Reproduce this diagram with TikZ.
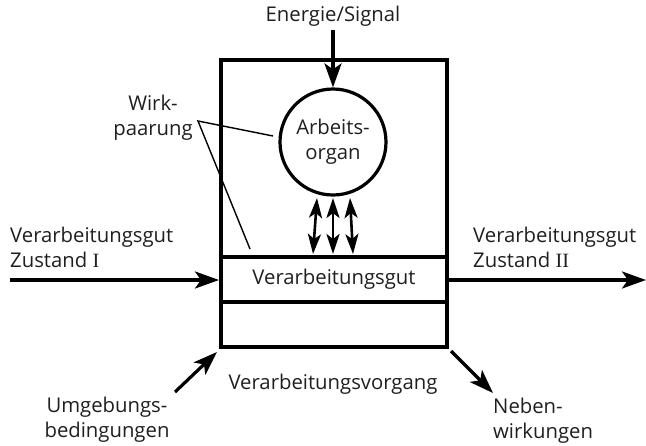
\documentclass[tikz,border=0pt]{standalone}
\usepackage{fontspec}
\setmainfont{Open Sans}
\newfontfamily\numfont{Liberation Serif}
\usetikzlibrary{arrows.meta}
\begin{document}
\begin{tikzpicture}[x=1pt,y=-1pt,
  font=\fontsize{20.3}{25}\selectfont,
  thick line/.style={line width=3.2pt},
  label text/.style={inner sep=0pt, align=left, text=black!88},
  center text/.style={inner sep=0pt, align=center, text=black!88},
  big arrow/.style={line width=3.2pt, -{Stealth[length=24pt,width=17pt,inset=6pt]}},
  duo arrow/.style={line width=2.6pt, {Stealth[length=20pt,width=13pt,inset=5pt]}-{Stealth[length=20pt,width=13pt,inset=5pt]}},
  thin line/.style={line width=1.4pt}]
\useasboundingbox (0,0) rectangle (646,445);
% main box
\node[draw, thick line, minimum width=226pt, minimum height=287pt, inner sep=0pt] (box) at (334,203.5) {};
% band
\node[draw, thick line, minimum width=226pt, minimum height=45pt, inner sep=0pt, center text] (band) at (334,279.5) {Verarbeitungsgut};
% circle
\node[draw, thick line, circle, minimum size=106pt, inner sep=0pt, center text] (organ) at (333,142) {Arbeits-\\organ};
% texts
\node[center text, anchor=base] (energie) at (333,21) {Energie/Signal};
\node[center text] (wirk) at (153,118) {Wirk-\\paarung};
\node[label text, anchor=base west] (inl) at (10,267) {Verarbeitungsgut\\Zustand {\numfont I}};
\node[label text, anchor=base west] (outl) at (473,267) {Verarbeitungsgut\\Zustand {\numfont II}};
\node[center text, anchor=base] (vorgang) at (333,389) {Verarbeitungsvorgang};
\node[center text, anchor=base] (umg) at (107,437) {Umgebungs-\\bedingungen};
\node[label text, anchor=base west] (neben) at (493,438) {Neben-\\wirkungen};
% coordinates
\coordinate (eS) at (333,30);
\coordinate (inS) at (10,280);
\coordinate (inE) at (219,280);
\coordinate (outS) at (448,280);
\coordinate (outE) at (646,280);
\coordinate (uS) at (175,392);
\coordinate (uE) at (217,352);
\coordinate (nS) at (451,351);
\coordinate (nE) at (493,393);
\coordinate (wk) at (198,121);
\coordinate (wk1) at (273,136);
\coordinate (wk2) at (250,249);
\coordinate (d1a) at (317,198);
\coordinate (d1b) at (313,254);
\coordinate (d2a) at (333,198);
\coordinate (d2b) at (333,254);
\coordinate (d3a) at (350,198);
\coordinate (d3b) at (353,254);
% connectors
\draw[big arrow] (eS) -- (organ.north);
\draw[big arrow] (inS) -- (inE);
\draw[big arrow] (outS) -- (outE);
\draw[big arrow] (uS) -- (uE);
\draw[big arrow] (nS) -- (nE);
\draw[duo arrow] (d1a) -- (d1b);
\draw[duo arrow] (d2a) -- (d2b);
\draw[duo arrow] (d3a) -- (d3b);
\draw[thin line] (wk1) -- (wk) -- (wk2);
\end{tikzpicture}
\end{document}
